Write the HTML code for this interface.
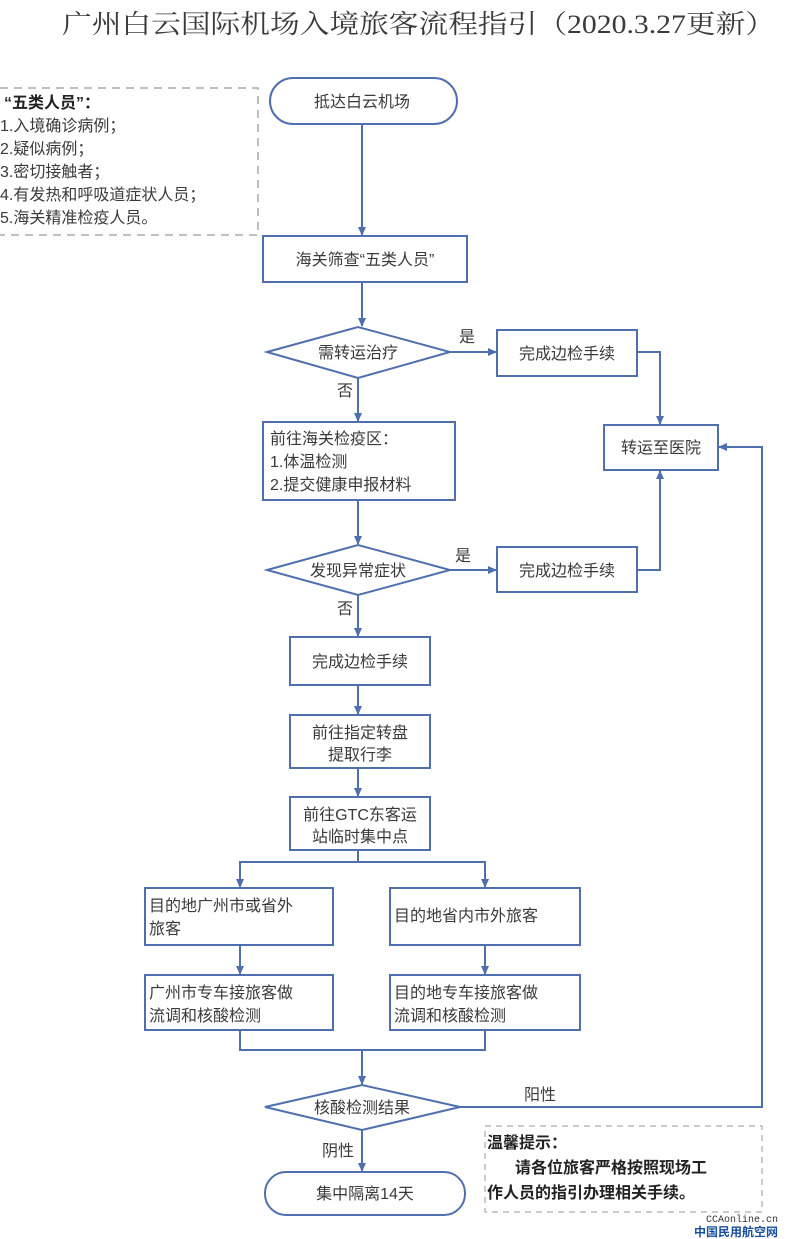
<!DOCTYPE html>
<html><head><meta charset="utf-8"><style>
html,body{margin:0;padding:0;background:#fff;}
svg{display:block;}
text{font-family:"Liberation Sans","Noto Sans CJK SC",sans-serif;fill:#3a3a3a;font-size:16px;}
.t{font-family:"Liberation Serif","Noto Serif CJK SC",serif;font-size:26px;fill:#3a3a3a;}
.b{font-weight:bold;fill:#222;}
</style></head><body>
<svg width="800" height="1239" viewBox="0 0 800 1239" xmlns="http://www.w3.org/2000/svg">
<defs><marker id="a" markerWidth="10" markerHeight="10" refX="8" refY="5" orient="auto" markerUnits="userSpaceOnUse"><path d="M0,1 L9,5 L0,9 Z" fill="#4f6fae"/></marker></defs>
<text class="t" x="62" y="33" textLength="713" lengthAdjust="spacingAndGlyphs">广州白云国际机场入境旅客流程指引（2020.3.27更新）</text>

<path d="M0,88 H258 V235 H0" fill="none" stroke="#aaa" stroke-width="1.5" stroke-dasharray="8,6"/>
<text class="b" x="4" y="108">“五类人员”：</text>
<text x="0" y="131">1.入境确诊病例；</text>
<text x="0" y="154">2.疑似病例；</text>
<text x="0" y="177">3.密切接触者；</text>
<text x="0" y="200">4.有发热和呼吸道症状人员；</text>
<text x="0" y="223">5.海关精准检疫人员。</text>

<g fill="none" stroke="#4f6fae" stroke-width="2">
<rect x="270" y="78" width="187" height="46" rx="23"/>
<rect x="263" y="236" width="204" height="46"/>
<polygon points="267,352 358,327 450,352 358,378"/>
<rect x="497" y="330" width="140" height="46"/>
<rect x="604" y="425" width="114" height="45"/>
<rect x="263" y="422" width="192" height="78"/>
<polygon points="267,570 358,545 450,570 358,595"/>
<rect x="497" y="547" width="140" height="45"/>
<rect x="290" y="637" width="140" height="48"/>
<rect x="290" y="715" width="140" height="53"/>
<rect x="290" y="797" width="140" height="53"/>
<rect x="145" y="888" width="188" height="57"/>
<rect x="390" y="888" width="190" height="57"/>
<rect x="145" y="975" width="188" height="55"/>
<rect x="390" y="975" width="190" height="55"/>
<polygon points="265,1107 362,1085 460,1107 362,1130"/>
<rect x="265" y="1172" width="200" height="43" rx="21"/>
</g>
<g fill="none" stroke="#4f6fae" stroke-width="2" marker-end="url(#a)">
<path d="M362,124 V235"/>
<path d="M362,282 V326"/>
<path d="M450,352 H496"/>
<path d="M637,352 H660 V424"/>
<path d="M358,378 V421"/>
<path d="M358,500 V544"/>
<path d="M450,570 H496"/>
<path d="M637,570 H660 V471"/>
<path d="M358,595 V636"/>
<path d="M358,685 V714"/>
<path d="M358,768 V796"/>
<path d="M358,850 V862 H240 V887"/>
<path d="M358,862 H485 V887"/>
<path d="M240,945 V974"/>
<path d="M485,945 V974"/>
<path d="M240,1030 V1050 H485 V1030 M362,1050 V1084"/>
<path d="M460,1107 H762 V447 H719"/>
<path d="M362,1130 V1171"/>
</g>
<text x="362" y="107" text-anchor="middle">抵达白云机场</text>
<text x="365" y="265" text-anchor="middle">海关筛查“五类人员”</text>
<text x="358" y="358" text-anchor="middle">需转运治疗</text>
<text x="467" y="342" text-anchor="middle">是</text>
<text x="567" y="359" text-anchor="middle">完成边检手续</text>
<text x="661" y="453" text-anchor="middle">转运至医院</text>
<text x="345" y="396" text-anchor="middle">否</text>
<text x="270" y="444">前往海关检疫区：</text>
<text x="270" y="467">1.体温检测</text>
<text x="270" y="490">2.提交健康申报材料</text>
<text x="358" y="576" text-anchor="middle">发现异常症状</text>
<text x="463" y="561" text-anchor="middle">是</text>
<text x="567" y="576" text-anchor="middle">完成边检手续</text>
<text x="345" y="614" text-anchor="middle">否</text>
<text x="360" y="667" text-anchor="middle">完成边检手续</text>
<text x="360" y="738" text-anchor="middle">前往指定转盘</text>
<text x="360" y="760" text-anchor="middle">提取行李</text>
<text x="360" y="820" text-anchor="middle">前往GTC东客运</text>
<text x="360" y="842" text-anchor="middle">站临时集中点</text>
<text x="149" y="911">目的地广州市或省外</text>
<text x="149" y="934">旅客</text>
<text x="394" y="921">目的地省内市外旅客</text>
<text x="149" y="998">广州市专车接旅客做</text>
<text x="149" y="1021">流调和核酸检测</text>
<text x="394" y="998">目的地专车接旅客做</text>
<text x="394" y="1021">流调和核酸检测</text>
<text x="362" y="1113" text-anchor="middle">核酸检测结果</text>
<text x="540" y="1100" text-anchor="middle">阳性</text>
<text x="338" y="1156" text-anchor="middle">阴性</text>
<text x="365" y="1199" text-anchor="middle">集中隔离14天</text>
<rect x="485" y="1126" width="277" height="86" fill="none" stroke="#bbb" stroke-width="1.5" stroke-dasharray="6,5"/>
<text class="b" x="487" y="1148">温馨提示：</text>
<text class="b" x="515" y="1173">请各位旅客严格按照现场工</text>
<text class="b" x="487" y="1198">作人员的指引办理相关手续。</text>
<text x="778" y="1222" text-anchor="end" style="font-size:10px;fill:#333;font-family:'Liberation Mono',monospace">CCAonline.cn</text>
<text x="778" y="1236" text-anchor="end" style="font-size:12px;fill:#1a4fa0;font-weight:bold">中国民用航空网</text>
</svg>
</body></html>
